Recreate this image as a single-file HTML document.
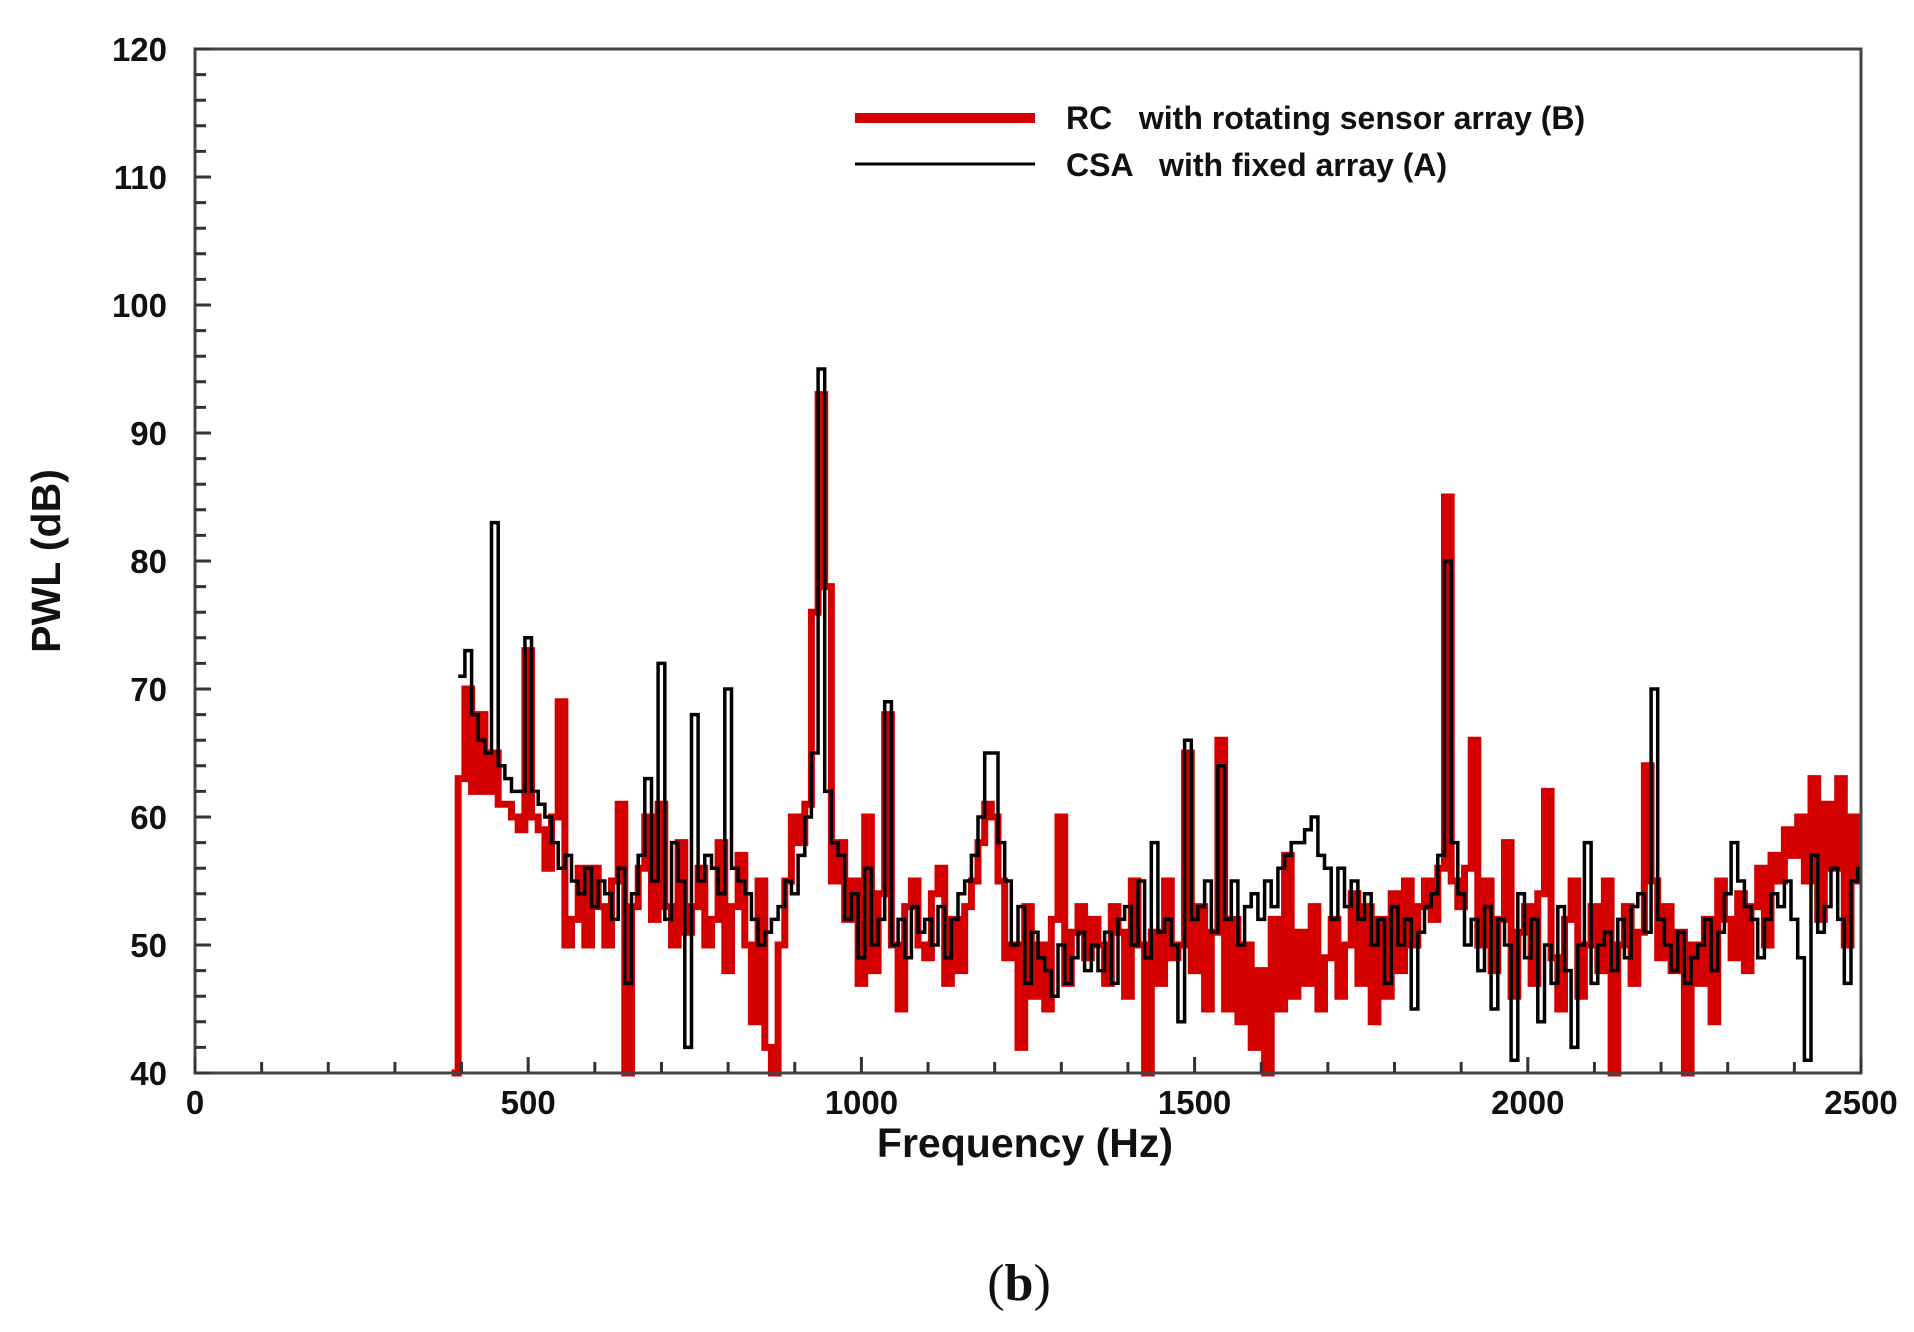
<!DOCTYPE html>
<html><head><meta charset="utf-8"><style>
html,body{margin:0;padding:0;background:#fff;}
svg{display:block;}
text{font-family:"Liberation Sans",Arial,sans-serif;fill:#111;}
</style></head><body>
<svg id="chart" width="1914" height="1332" viewBox="0 0 1914 1332" xmlns="http://www.w3.org/2000/svg">
<g id="marks"></g>
<g id="axes"></g>
<g>
<line x1="855" y1="118" x2="1035" y2="118" stroke="#d40000" stroke-width="10"/>
<text x="1066" y="129" font-size="32" font-weight="bold" xml:space="preserve">RC   with rotating sensor array (B)</text>
<line x1="855" y1="164" x2="1035" y2="164" stroke="#000" stroke-width="3"/>
<text x="1066" y="176" font-size="32" font-weight="bold" xml:space="preserve">CSA   with fixed array (A)</text>
</g>
<text x="1025" y="1157" font-size="41" font-weight="bold" text-anchor="middle">Frequency (Hz)</text>
<text transform="translate(60,561) rotate(-90)" font-size="41" font-weight="bold" text-anchor="middle">PWL (dB)</text>
<text x="1019" y="1300" font-size="52" text-anchor="middle" style="font-family:'Liberation Serif',serif">(<tspan font-weight="bold">b</tspan>)</text>
</svg>
<script>
const xTicks = [0, 500, 1000, 1500, 2000, 2500];
const yTicks = [40, 50, 60, 70, 80, 90, 100, 110, 120];
const rcStart = 390;
const rcStep = 10;
const rcValues = [40,63,70,62,68,62,65,61,61,60,59,73,60,59,56,60,69,50,52,56,50,56,53,50,55,61,40,53,56,60,52,61,53,50,58,51,53,56,50,52,58,48,53,57,50,44,55,42,40,50,55,60,58,61,76,93,78,55,58,52,55,47,60,48,54,68,50,45,53,55,50,49,54,56,47,52,48,53,55,58,61,60,55,49,50,42,53,46,50,45,52,60,47,51,53,49,52,50,47,53,51,46,55,50,40,51,47,55,49,50,65,48,53,45,51,66,45,52,44,50,42,48,40,52,45,57,46,51,47,53,45,49,52,46,50,54,47,53,44,52,46,54,48,55,50,53,55,52,56,85,55,53,56,66,50,55,48,52,58,46,51,53,47,54,62,49,45,52,55,46,50,53,48,55,40,50,53,47,51,64,55,49,53,48,51,40,50,47,52,44,55,52,49,54,48,53,56,50,57,55,59,57,60,55,63,52,61,56,63,50,60,55];
const csaStart = 400;
const csaStep = 10;
const csaValues = [71,73,68,66,65,83,64,63,62,62,74,62,61,60,58,56,57,55,54,56,53,55,54,52,56,47,54,57,63,55,72,52,58,55,42,68,55,57,56,54,70,56,55,54,52,50,51,52,53,55,54,57,60,65,95,62,58,57,52,54,49,56,50,52,69,50,52,49,53,51,52,50,53,49,52,54,55,57,60,65,65,58,55,50,53,47,51,49,48,46,50,47,49,51,48,50,48,51,47,52,53,50,55,49,58,51,52,50,44,66,52,53,55,51,64,52,55,50,53,54,52,55,53,56,57,58,58,59,60,57,56,52,56,53,55,52,54,50,52,47,53,50,52,45,51,53,54,57,80,58,54,50,52,48,53,45,52,50,41,54,49,52,44,50,47,53,48,42,50,58,47,50,51,48,52,49,53,54,51,70,52,50,48,51,47,49,50,52,48,51,54,58,55,53,52,49,52,54,53,55,52,49,41,57,51,53,56,52,47,55,56];

const L=195,R=1861,T=49,B=1073;
const xMin=0,xMax=2500,yMin=40,yMax=120;
function sx(v){return L+(v-xMin)/(xMax-xMin)*(R-L);}
function sy(v){return B-(v-yMin)/(yMax-yMin)*(B-T);}
const NS="http://www.w3.org/2000/svg";
const marks=document.getElementById('marks');
const axes=document.getElementById('axes');

function stepPath(start,step,vals){
  let d='';
  for(let i=0;i<vals.length;i++){
    const x0=sx(start+i*step-step/2), x1=sx(start+i*step+step/2);
    const y=sy(Math.max(yMin,Math.min(yMax,vals[i])));
    d+=(i===0?'M':'L')+x0.toFixed(1)+','+y.toFixed(1)+'L'+Math.min(x1,R).toFixed(1)+','+y.toFixed(1);
  }
  return d;
}
const rc=document.createElementNS(NS,'path');


rc.setAttribute('d',stepPath(rcStart,rcStep,rcValues));
rc.setAttribute('fill','none');rc.setAttribute('stroke','#d40000');rc.setAttribute('stroke-width','7');
marks.appendChild(rc);
const csa=document.createElementNS(NS,'path');


csa.setAttribute('d',stepPath(csaStart,csaStep,csaValues));
csa.setAttribute('fill','none');csa.setAttribute('stroke','#000');csa.setAttribute('stroke-width','3.5');
marks.appendChild(csa);

const frame=document.createElementNS(NS,'rect');


frame.setAttribute('x',L);frame.setAttribute('y',T);frame.setAttribute('width',R-L);frame.setAttribute('height',B-T);
frame.setAttribute('fill','none');frame.setAttribute('stroke','#444');frame.setAttribute('stroke-width','3');
axes.appendChild(frame);

let td='';
for(let v=xMin;v<=xMax;v+=100){const x=sx(v);const len=(v%500===0)?16:11;td+='M'+x+','+B+'V'+(B-len);}
for(let v=yMin;v<=yMax;v+=2){const y=sy(v);const len=(v%10===0)?16:11;td+='M'+L+','+y+'H'+(L+len);}
const ticks=document.createElementNS(NS,'path');


ticks.setAttribute('d',td);ticks.setAttribute('stroke','#333');ticks.setAttribute('stroke-width','3');
axes.appendChild(ticks);

xTicks.forEach(v=>{
  const t=document.createElementNS(NS,'text');
  
  
  t.setAttribute('x',sx(v));t.setAttribute('y',1114);t.setAttribute('font-size','33');t.setAttribute('font-weight','bold');t.setAttribute('text-anchor','middle');
  t.textContent=v;axes.appendChild(t);
});
yTicks.forEach(v=>{
  const t=document.createElementNS(NS,'text');
  
  
  t.setAttribute('x',167);t.setAttribute('y',sy(v)+12);t.setAttribute('font-size','33');t.setAttribute('font-weight','bold');t.setAttribute('text-anchor','end');
  t.textContent=v;axes.appendChild(t);
});
</script>
</body></html>
